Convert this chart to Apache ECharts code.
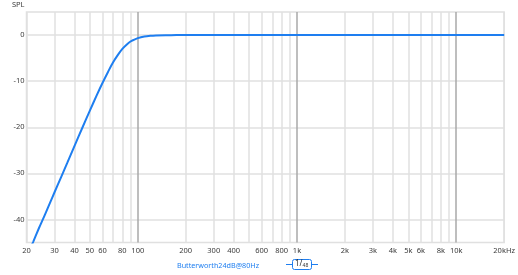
<!DOCTYPE html>
<html>
<head>
<meta charset="utf-8">
<script src="https://cdn.jsdelivr.net/npm/echarts@6/dist/echarts.min.js"></script>
<style>html,body{margin:0;padding:0;background:#fff}#c{width:518px;height:275px}</style>
</head>
<body>
<div id="c"></div>
<script>
const seriesName = 'Butterworth24dB@80Hz';
const freqs = [20, 22, 24, 26, 28, 30, 33, 36, 40, 45, 50, 55, 60, 65, 70, 75, 80, 85, 90, 95, 100, 110, 120, 130, 150, 175, 200, 300, 500, 1000, 2000, 5000, 10000, 20000];
const spl = [-48.2, -44.9, -41.8, -39.1, -36.5, -34.1, -30.8, -27.8, -24.1, -20.0, -16.4, -13.2, -10.4, -8.0, -5.9, -4.3, -3.0, -2.1, -1.4, -1.0, -0.67, -0.33, -0.17, -0.09, -0.03, -0.01, 0, 0, 0, 0, 0, 0, 0, 0];
const xGridValues = [20, 30, 40, 50, 60, 70, 80, 90, 100, 200, 300, 400, 500, 600, 700, 800, 900, 1000, 2000, 3000, 4000, 5000, 6000, 7000, 8000, 9000, 10000, 20000];
const xLabelValues = [20, 30, 40, 50, 60, 80, 100, 200, 300, 400, 600, 800, 1000, 2000, 3000, 4000, 5000, 6000, 8000, 10000, 20000];
const yTickValues = [-40, -30, -20, -10, 0];

const FONT = 'Noto Sans';
const BLUE = '#1e7ef0';
const LIGHT = '#e0e0e0';
const DARK = '#a8a8a8';

const chart = echarts.init(document.getElementById('c'), null, {renderer: 'canvas'});
chart.setOption({
  animation: false,
  backgroundColor: '#fff',
  textStyle: {fontFamily: FONT},
  grid: {left: 26.5, right: 12.5, top: 12, bottom: 32.5, show: true, borderColor: LIGHT, borderWidth: 1.5, containLabel: false},
  xAxis: {
    type: 'log', logBase: 10, min: 20, max: 20000,
    axisLine: {show: false},
    axisTick: {show: false, customValues: xGridValues},
    axisLabel: {
      customValues: xLabelValues, fontSize: 7.5, color: '#3a3a3a', margin: 4, fontFamily: FONT,
      formatter: v => { const r = Math.round(v); if (r === 20000) return '20kHz'; return r >= 1000 ? (r / 1000) + 'k' : String(r); }
    },
    splitLine: {show: true, lineStyle: {width: 1.5, color: [LIGHT, LIGHT, LIGHT, LIGHT, LIGHT, LIGHT, LIGHT, LIGHT, DARK]}}
  },
  yAxis: {
    type: 'value', min: -45, max: 5,
    name: 'SPL', nameLocation: 'end', nameGap: 3,
    nameTextStyle: {align: 'right', fontSize: 7.5, color: '#3a3a3a', fontFamily: FONT, padding: [0, 2, 0, 0]},
    axisLine: {show: false},
    axisTick: {show: false, customValues: yTickValues},
    axisLabel: {customValues: yTickValues, fontSize: 7.5, color: '#3a3a3a', margin: 2, fontFamily: FONT},
    splitLine: {show: true, lineStyle: {width: 1.5, color: LIGHT}}
  },
  legend: {
    data: [seriesName], left: 172, top: 259, icon: 'none', itemWidth: 0, itemGap: 0, padding: 0,
    textStyle: {fontSize: 7.2, color: BLUE, fontFamily: FONT}
  },
  graphic: [
    {type: 'line', shape: {x1: 286, y1: 264.5, x2: 318, y2: 264.5}, style: {stroke: BLUE, lineWidth: 1}},
    {type: 'rect', shape: {x: 292.5, y: 259.5, width: 19, height: 10, r: 2}, style: {fill: '#fff', stroke: BLUE, lineWidth: 1}},
    {type: 'text', x: 295, y: 260, style: {text: '{a|1/}{b|48}', rich: {a: {fontSize: 8, fill: '#333', fontFamily: FONT}, b: {fontSize: 5, fill: '#333', fontFamily: FONT, padding: [3, 0, 0, 0]}}}}
  ],
  series: [{
    name: seriesName, type: 'line', showSymbol: false, smooth: 0.3, clip: true,
    lineStyle: {color: BLUE, width: 2}, itemStyle: {color: BLUE},
    data: freqs.map((f, i) => [f, spl[i]])
  }]
});
</script>
</body>
</html>
